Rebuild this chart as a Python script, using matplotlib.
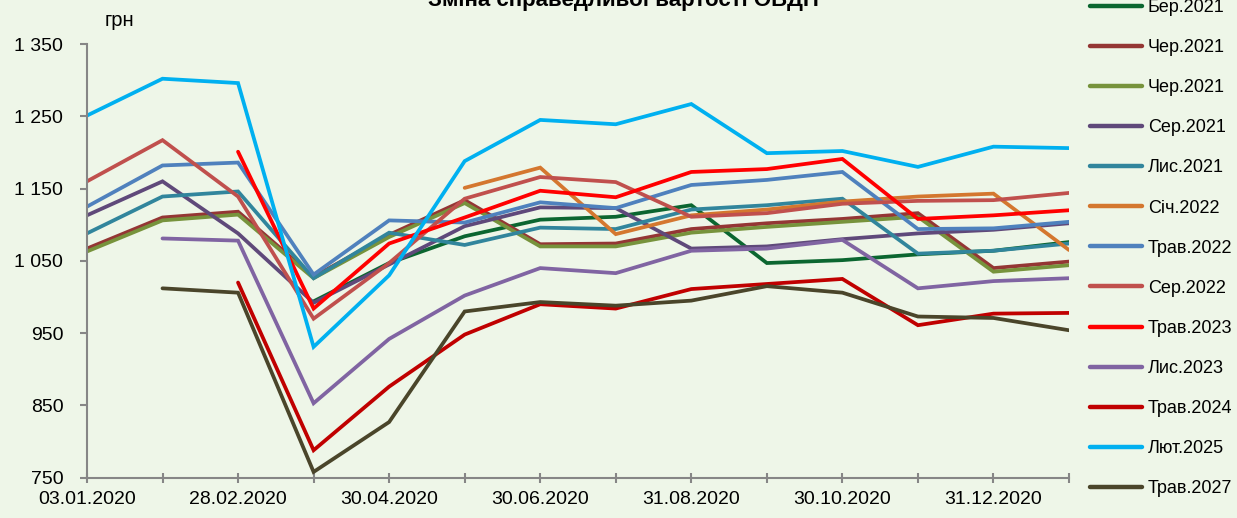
import numpy as np
import matplotlib.pyplot as plt

nan = np.nan

# report dates (x axis)
dates = ['03.01.2020', '31.01.2020', '28.02.2020', '31.03.2020', '30.04.2020',
         '29.05.2020', '30.06.2020', '31.07.2020', '31.08.2020', '30.09.2020',
         '30.10.2020', '30.11.2020', '31.12.2020', '29.01.2021']

# fair value of bonds by maturity, UAH
ber_2021 = [nan, nan, nan, 994, 1047, 1084, 1107, 1111, 1127, 1047, 1051, 1059, 1064, 1076]
cher_2021_a = [1067, 1110, 1118, 1028, 1086, 1134, 1073, 1074, 1094, 1102, 1108, 1116, 1040, 1049]
cher_2021_b = [1063, 1106, 1114, 1026, 1083, 1130, 1070, 1070, 1089, 1097, 1104, 1111, 1035, 1044]
ser_2021 = [1113, 1160, 1088, 992, 1045, 1098, 1124, 1123, 1067, 1070, 1080, 1088, 1093, 1102]
lys_2021 = [1088, 1139, 1146, 1026, 1089, 1072, 1096, 1094, 1121, 1127, 1136, 1060, 1064, 1074]
sich_2022 = [nan, nan, nan, nan, nan, 1151, 1179, 1087, 1113, 1121, 1132, 1139, 1143, 1065]
trav_2022 = [1125, 1182, 1186, 1031, 1106, 1103, 1131, 1123, 1155, 1162, 1173, 1094, 1095, 1104]
ser_2022 = [1160, 1217, 1139, 970, 1047, 1136, 1166, 1159, 1111, 1116, 1129, 1133, 1134, 1144]
trav_2023 = [nan, nan, 1201, 984, 1074, 1110, 1147, 1138, 1173, 1177, 1191, 1108, 1113, 1120]
lys_2023 = [nan, 1081, 1078, 853, 942, 1002, 1040, 1033, 1064, 1067, 1079, 1012, 1022, 1026]
trav_2024 = [nan, nan, 1020, 788, 876, 948, 990, 984, 1011, 1018, 1025, 961, 977, 978]
lyut_2025 = [1251, 1302, 1296, 931, 1030, 1188, 1245, 1239, 1267, 1199, 1202, 1180, 1208, 1206]
trav_2027 = [nan, 1012, 1006, 758, 827, 980, 993, 988, 995, 1015, 1006, 973, 971, 954]

series = [
    ('Бер.2021', ber_2021, '#0B6630'),
    ('Чер.2021', cher_2021_a, '#943634'),
    ('Чер.2021', cher_2021_b, '#77933C'),
    ('Сер.2021', ser_2021, '#5F497A'),
    ('Лис.2021', lys_2021, '#31859C'),
    ('Січ.2022', sich_2022, '#D4772F'),
    ('Трав.2022', trav_2022, '#4F81BD'),
    ('Сер.2022', ser_2022, '#C0504D'),
    ('Трав.2023', trav_2023, '#FF0000'),
    ('Лис.2023', lys_2023, '#8064A2'),
    ('Трав.2024', trav_2024, '#C00000'),
    ('Лют.2025', lyut_2025, '#00B0F0'),
    ('Трав.2027', trav_2027, '#4A452A'),
]

y_ticks = [750, 850, 950, 1050, 1150, 1250, 1350]

bg = '#EEF6E8'
plt.rcParams['font.family'] = ['Liberation Sans', 'DejaVu Sans']

fig = plt.figure(figsize=(12.37, 5.18), dpi=100, facecolor=bg)
ax = fig.add_axes([0.0703, 0.0778, 0.7939, 0.8372], facecolor=bg)

x = np.arange(len(dates))
for name, values, color in series:
    ax.plot(x, values, color=color, linewidth=2.7, label=name,
            solid_capstyle='round', solid_joinstyle='miter')

ax.set_xlim(0, len(dates) - 1)
ax.set_ylim(750, 1350)
ax.set_xticks(x)
ax.set_xticklabels([d if i % 2 == 0 else '' for i, d in enumerate(dates)])
ax.set_yticks(y_ticks)
ax.set_yticklabels([f'{v:,}'.replace(',', ' ') for v in y_ticks])

for side in ['top', 'right']:
    ax.spines[side].set_visible(False)
for side in ['left', 'bottom']:
    ax.spines[side].set_color('#868686')
    ax.spines[side].set_linewidth(1.5)
ax.tick_params(axis='x', direction='inout', length=7, width=1.5, color='#868686',
               labelsize=14, pad=6)
ax.tick_params(axis='y', direction='out', length=5, width=1.5, color='#868686',
               labelsize=14, pad=12)

fig.text(105 / 1237, 1 - 20 / 518, 'грн', fontsize=14.5, va='center')
fig.text(623 / 1237, 1 - 6 / 518, 'Зміна справедливої вартості ОВДП',
         fontsize=16, fontweight='bold', ha='center', va='baseline')

leg = fig.legend(loc='upper left', bbox_to_anchor=(1090 / 1237, 1 + 1 / 518),
                 frameon=False, fontsize=13, handlelength=2.9, handletextpad=0.3,
                 labelspacing=1.28, borderpad=0, borderaxespad=0)
for line in leg.get_lines():
    line.set_linewidth(3.2)

fig.savefig('out.png', dpi=100, facecolor=bg)
